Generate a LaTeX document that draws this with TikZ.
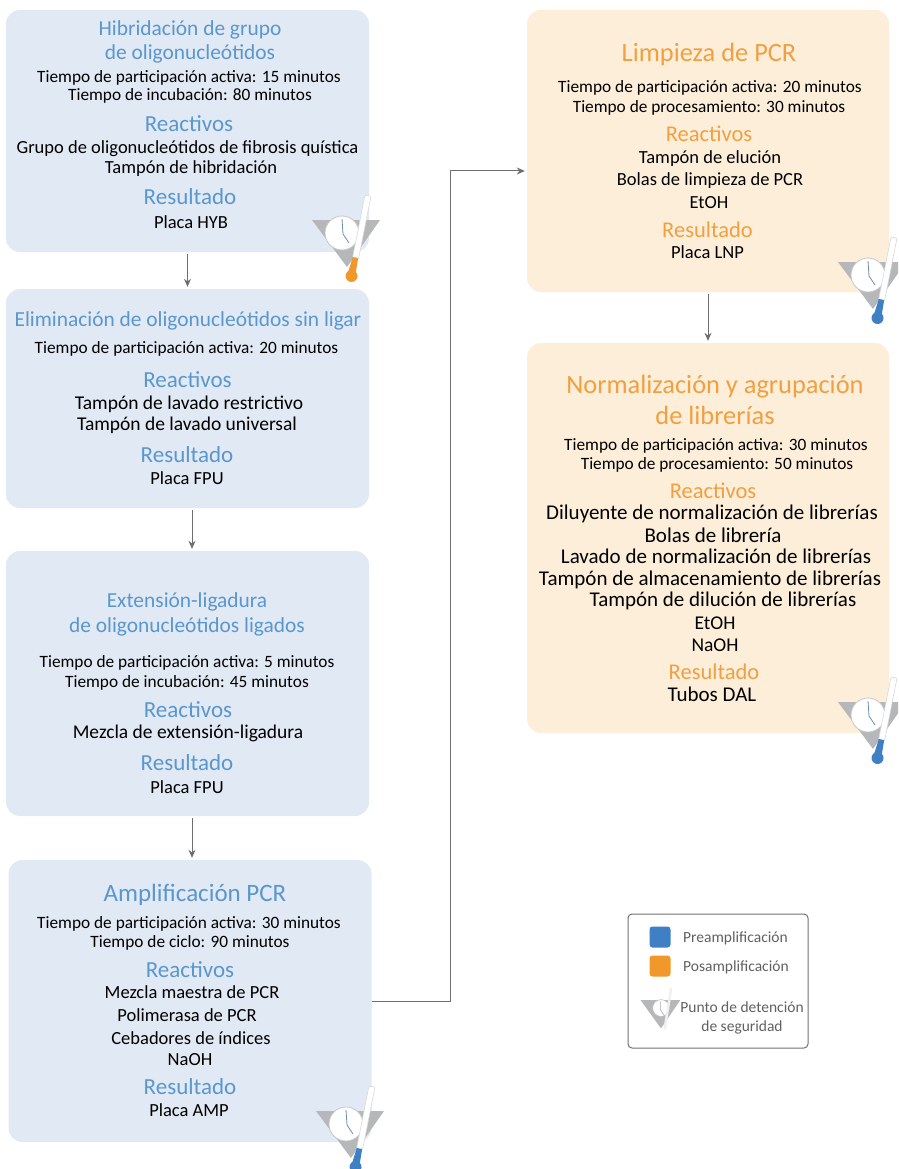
\documentclass[tikz,border=0pt]{standalone}
\usepackage{fontspec}
\setmainfont{Carlito}
\usetikzlibrary{arrows.meta}
\definecolor{bluebox}{HTML}{E1E9F5}
\definecolor{orangebox}{HTML}{FDEEDA}
\definecolor{bluetxt}{HTML}{5A97CC}
\definecolor{orangetxt}{HTML}{F0A040}
\definecolor{bluemark}{HTML}{3F80C4}
\definecolor{orangemark}{HTML}{F0982A}
\definecolor{arrowgray}{HTML}{6E6E6E}
\definecolor{trigray}{HTML}{B5B7B9}
\tikzset{
  panel/.style={draw=none,rounded corners=14pt,inner sep=0pt,minimum width=#1},
  bluepanel/.style={panel=363pt,fill=bluebox},
  orangepanel/.style={panel=362pt,fill=orangebox},
  txt/.style={inner sep=0pt,text=black,text height=17pt,text depth=4pt,font=\fontsize{18.5}{18}\selectfont,anchor=center},
  timetxt/.style={txt,font=\fontsize{17.3}{18}\selectfont},
  mid/.style={txt,font=\fontsize{19.5}{20}\selectfont},
  big/.style={txt,font=\fontsize{21}{21}\selectfont},
  btitle/.style={txt,text height=21pt,text depth=5pt,text=bluetxt,font=\fontsize{21.4}{21}\selectfont},
  bhead/.style={txt,text height=20pt,text depth=5pt,text=bluetxt,font=\fontsize{23}{22}\selectfont},
  blarge/.style={txt,text height=21pt,text depth=5pt,text=bluetxt,font=\fontsize{25}{24}\selectfont},
  ohead/.style={txt,text height=19pt,text depth=5pt,text=orangetxt,font=\fontsize{22.5}{22}\selectfont},
  olarge/.style={txt,text height=23pt,text depth=5pt,text=orangetxt,font=\fontsize{26.4}{26}\selectfont},
  legtxt/.style={txt,text height=13pt,text depth=4pt,text=black!62,font=\fontsize{15.5}{16}\selectfont},
  flow/.style={draw=arrowgray,line width=1pt,-{Stealth[length=8pt,width=7pt]}},
}
\newcommand{\tl}[5][txt]{\node[#1] (#2) at (#3,#4) {#5};}
\newcommand{\boxat}[6]{\node[#1,minimum height=#5 pt] (#2) at (#3,#4) {};}
\newcommand{\stopicon}[3]{%
  \begin{scope}[shift={(#1,#2)}]
    \fill[trigray] (-30,-10) -- (38,-10) -- (5,37) -- cycle;
    \fill[white,draw=black!22,line width=0.8pt] (0,3) circle (17);
    \draw[bluetxt!55!gray,line width=0.8pt] (0,-11) -- (1,4) -- (7,13);
    \fill[white,draw=black!15,line width=0.6pt,rounded corners=2pt] (23,-35) -- (29,-34) -- (16.5,29) -- (10.5,28) -- cycle;
    \fill[#3] (10.8,27) -- (16.2,28) -- (13.5,44) -- (5.5,44) -- cycle;
    \fill[#3] (9.5,46) circle (6);
  \end{scope}}
\begin{document}
\begin{tikzpicture}[x=1pt,y=-1pt]
\useasboundingbox (0,0) rectangle (898,1169);
\clip (0,0) rectangle (898,1169);
\fill[white] (0,0) rectangle (898,1169);
\boxat{bluepanel}{b1}{187.5}{131}{242}{}
\boxat{bluepanel}{b2}{187.5}{398.5}{219}{}
\boxat{bluepanel}{b3}{187.5}{683.5}{265}{}
\boxat{bluepanel}{b4}{190}{1001}{282}{}
\boxat{orangepanel}{r1}{708}{151}{282}{}
\boxat{orangepanel}{r2}{708}{538}{390}{}
% arrows
\draw[flow] ([yshift=-2pt]b1.south) -- ([yshift=2pt]b2.north);
\draw[flow] ([xshift=4.5pt,yshift=-2pt]b2.south) -- ([xshift=4.5pt,yshift=2pt]b3.north);
\draw[flow] ([xshift=4.5pt,yshift=-2pt]b3.south) -- ([xshift=2pt,yshift=2pt]b4.north);
\draw[flow] (b4.east) -- ++(79,0) |- ([xshift=-2pt,yshift=-20pt]r1.west);
\draw[flow] ([yshift=-2pt]r1.south) -- ([yshift=2pt]r2.north);
% box 1
\tl[btitle]{a1}{190}{28}{Hibridación de grupo}
\tl[btitle]{a2}{190}{52}{de oligonucleótidos}
\tl[timetxt]{a3}{189}{76}{Tiempo de participación activa: 15 minutos}
\tl[timetxt]{a4}{190}{94}{Tiempo de incubación: 80 minutos}
\tl[bhead]{a5}{189}{124}{Reactivos}
\tl[txt]{a6}{187.5}{147}{Grupo de oligonucleótidos de fibrosis quística}
\tl{a7}{191}{167}{Tampón de hibridación}
\tl[bhead]{a8}{190}{197}{Resultado}
\tl{a9}{191}{222}{Placa HYB}
% box 2
\tl[btitle]{c1}{188}{318}{Eliminación de oligonucleótidos sin ligar}
\tl[timetxt]{c2}{186.5}{347}{Tiempo de participación activa: 20 minutos}
\tl[bhead]{c3}{187.5}{380}{Reactivos}
\tl[mid]{c4}{189}{403}{Tampón de lavado restrictivo}
\tl[mid]{c5}{187}{424}{Tampón de lavado universal}
\tl[bhead]{c6}{187}{455}{Resultado}
\tl{c7}{187}{478}{Placa FPU}
% box 3
\tl[btitle]{d1}{187}{599}{Extensión-ligadura}
\tl[btitle]{d2}{187}{624}{de oligonucleótidos ligados}
\tl[timetxt]{d3}{187}{661}{Tiempo de participación activa: 5 minutos}
\tl[timetxt]{d4}{187}{681}{Tiempo de incubación: 45 minutos}
\tl[bhead]{d5}{188}{710}{Reactivos}
\tl[mid]{d6}{188}{732}{Mezcla de extensión-ligadura}
\tl[bhead]{d7}{187}{763}{Resultado}
\tl{d8}{187}{787}{Placa FPU}
% box 4
\tl[blarge]{e1}{195}{893}{Amplificación PCR}
\tl[timetxt]{e2}{189}{922}{Tiempo de participación activa: 30 minutos}
\tl[timetxt]{e3}{190}{941}{Tiempo de ciclo: 90 minutos}
\tl[bhead]{e4}{190}{970}{Reactivos}
\tl{e5}{192}{992}{Mezcla maestra de PCR}
\tl{e6}{187}{1015}{Polimerasa de PCR}
\tl{e7}{191}{1038}{Cebadores de índices}
\tl{e8}{190}{1059}{NaOH}
\tl[bhead]{e9}{190}{1087}{Resultado}
\tl{e10}{189}{1110}{Placa AMP}
% right 1
\tl[olarge]{f1}{709}{53}{Limpieza de PCR}
\tl[timetxt]{f2}{710}{86}{Tiempo de participación activa: 20 minutos}
\tl[timetxt]{f3}{709}{106}{Tiempo de procesamiento: 30 minutos}
\tl[ohead]{f4}{709}{135}{Reactivos}
\tl{f5}{710}{157}{Tampón de elución}
\tl{f6}{710}{179}{Bolas de limpieza de PCR}
\tl{f7}{709}{202}{EtOH}
\tl[ohead]{f8}{707.5}{230}{Resultado}
\tl{f9}{707.5}{252}{Placa LNP}
% right 2
\tl[olarge]{g1}{715}{384}{Normalización y agrupación}
\tl[olarge]{g2}{715}{415}{de librerías}
\tl[timetxt]{g3}{716}{444}{Tiempo de participación activa: 30 minutos}
\tl[timetxt]{g4}{717}{463}{Tiempo de procesamiento: 50 minutos}
\tl[ohead]{g5}{713}{491}{Reactivos}
\tl[big]{g6}{712}{513}{Diluyente de normalización de librerías}
\tl[big]{g7}{713}{536}{Bolas de librería}
\tl[big]{g8}{716}{557}{Lavado de normalización de librerías}
\tl[big]{g9}{710}{579}{Tampón de almacenamiento de librerías}
\tl[big]{g10}{723}{600}{Tampón de dilución de librerías}
\tl[mid]{g11}{715}{623}{EtOH}
\tl[mid]{g12}{715}{645}{NaOH}
\tl[ohead]{g13}{714}{672}{Resultado}
\tl[big]{g14}{712}{695}{Tubos DAL}
% icons
\stopicon{342}{230}{orangemark}
\stopicon{868}{272}{bluemark}
\stopicon{868}{712}{bluemark}
\stopicon{346}{1121}{bluemark}
% legend
\node[draw=black!55,fill=white,line width=1pt,rounded corners=4pt,minimum width=180pt,minimum height=134pt,inner sep=0pt] (leg) at (718,981) {};
\node[fill=bluemark,rounded corners=3pt,minimum size=21pt,inner sep=0pt] (sq1) at (660,937) {};
\node[fill=orangemark,rounded corners=3pt,minimum size=21pt,inner sep=0pt] (sq2) at (660,966) {};
\node[legtxt,anchor=west] (l1) at (683,938) {Preamplificación};
\node[legtxt,anchor=west] (l2) at (683,967) {Posamplificación};
\node[legtxt] (l3) at (742,1008) {Punto de detención};
\node[legtxt] (l4) at (742,1027) {de seguridad};
\begin{scope}[shift={(661,1008)},scale=0.6]
  \fill[trigray] (-34,-13) -- (32,-13) -- (0,34) -- cycle;
  \fill[white,draw=black!25,line width=0.6pt] (0,0) circle (14);
  \draw[black!35,line width=0.5pt] (-1,-11) -- (-1,3) -- (5,12);
  \fill[black!6] (15,-34) -- (19,-33) -- (8,36) -- (4,35) -- cycle;
\end{scope}
\end{tikzpicture}
\end{document}
